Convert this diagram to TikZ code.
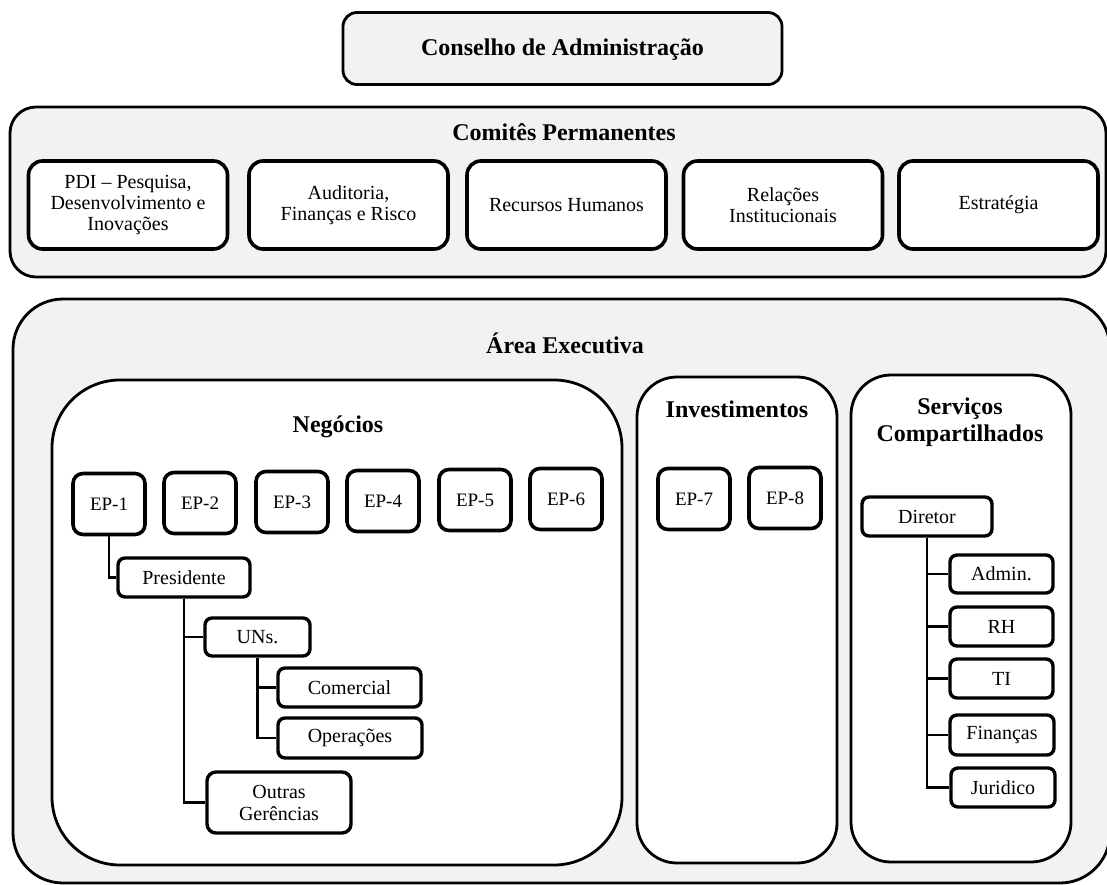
\documentclass[tikz,border=0pt]{standalone}
\usepackage{fontspec}
\setmainfont{Liberation Serif}
\begin{document}
\begin{tikzpicture}[x=1pt,y=-1pt,
  panel/.style={draw, line width=2.8pt, fill=black!5, inner sep=0pt},
  group/.style={draw, line width=2.8pt, fill=white, inner sep=0pt},
  heading/.style={font=\fontsize{24}{27}\selectfont\bfseries, align=center, inner sep=0pt},
  committee/.style={draw, line width=3.6pt, fill=white, rounded corners=14pt,
    minimum width=199pt, minimum height=88pt, align=center, inner sep=0pt,
    font=\fontsize{20}{21}\selectfont},
  epbox/.style={draw, line width=3.6pt, fill=white, rounded corners=10pt,
    minimum width=72pt, minimum height=61pt, inner sep=0pt,
    font=\fontsize{19}{21}\selectfont},
  unit/.style={draw, line width=3.4pt, fill=white, rounded corners=7pt,
    minimum height=39pt, inner sep=0pt, align=center,
    font=\fontsize{20}{22}\selectfont},
  link/.style={line width=2.2pt}
]
\useasboundingbox (0,0) rectangle (1107,885);
\clip (0,0) rectangle (1107,885);

% Board
\node[panel, rounded corners=14pt, minimum width=439pt, minimum height=72pt] (conselho) at (562.5,48.5) {};
\node[heading] (tconselho) at (562.5,50) {Conselho de Administração};

% Standing committees
\node[panel, rounded corners=26pt, minimum width=1096pt, minimum height=170pt] (comites) at (558,192) {};
\node[heading] (tcomites) at (564,132) {Comitês Permanentes};
\node[committee] (pdi) at (128,205) {PDI – Pesquisa,\\Desenvolvimento e\\Inovações};
\node[committee] (aud) at (348.5,205) {Auditoria,\\Finanças e Risco};
\node[committee] (rhum) at (566.5,205) {Recursos Humanos};
\node[committee] (rel) at (783,205) {Relações\\Institucionais};
\node[committee] (est) at (998.5,205) {Estratégia};

% Executive area
\node[panel, rounded corners=50pt, minimum width=1097pt, minimum height=584pt] (area) at (561.5,591) {};
\node[heading] (tarea) at (565,343) {Área Executiva};

\node[group, rounded corners=68pt, minimum width=570pt, minimum height=485pt] (neg) at (337,622.5) {};
\node[heading] (tneg) at (338,427) {Negócios};
\node[group, rounded corners=40pt, minimum width=200pt, minimum height=486pt] (inv) at (737,620) {};
\node[heading] (tinv) at (737,409) {Investimentos};
\node[group, rounded corners=40pt, minimum width=220pt, minimum height=487pt] (serv) at (961,618.5) {};
\node[heading] (tserv) at (960,422) {Serviços\\Compartilhados};

% Business units
\node[epbox] (ep1) at (109,504) {EP-1};
\node[epbox] (ep2) at (200,503) {EP-2};
\node[epbox] (ep3) at (292,502) {EP-3};
\node[epbox] (ep4) at (383,501) {EP-4};
\node[epbox] (ep5) at (475,500) {EP-5};
\node[epbox] (ep6) at (566,499) {EP-6};
\node[epbox] (ep7) at (694,499) {EP-7};
\node[epbox] (ep8) at (785,498) {EP-8};

\node[unit, minimum width=132pt] (pres) at (184,577.5) {Presidente};
\node[unit, minimum width=105pt, minimum height=38pt] (uns) at (257.5,637) {UNs.};
\node[unit, minimum width=143pt] (com) at (349.5,687.5) {Comercial};
\node[unit, minimum width=144pt, minimum height=40pt] (ope) at (350,738) {Operações};
\node[unit, minimum width=144pt, minimum height=61pt, rounded corners=9pt] (outras) at (279,802.5) {Outras\\Gerências};

% Shared services
\node[unit, minimum width=130pt] (dir) at (927,516.5) {Diretor};
\node[unit, minimum width=103pt, minimum height=38pt] (adm) at (1001.5,574) {Admin.};
\node[unit, minimum width=103pt] (srh) at (1001.5,626.5) {RH};
\node[unit, minimum width=103pt] (ti) at (1001.5,678.5) {TI};
\node[unit, minimum width=104pt, minimum height=40pt] (fin) at (1002,735) {Finanças};
\node[unit, minimum width=104pt] (jur) at (1003,787.5) {Juridico};

% Connectors
\draw[link] (ep1.south) |- (pres.west);
\draw[link] (pres.south) |- (uns.west);
\draw[link] (pres.south) |- (outras.west);
\draw[link] (uns.south) |- (com.west);
\draw[link] (uns.south) |- (ope.west);
\draw[link] (dir.south) |- (adm.west);
\draw[link] (dir.south) |- (srh.west);
\draw[link] (dir.south) |- (ti.west);
\draw[link] (dir.south) |- (fin.west);
\draw[link] (dir.south) |- (jur.west);
\end{tikzpicture}
\end{document}
